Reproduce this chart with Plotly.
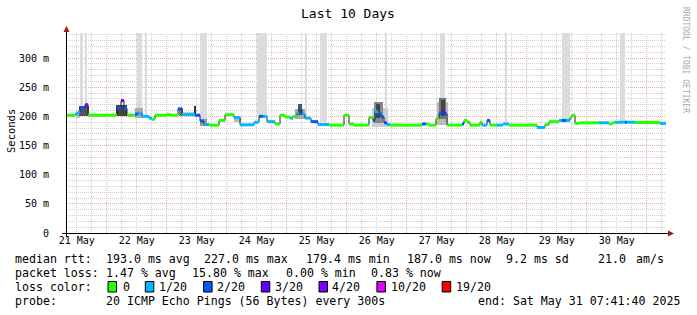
import plotly.graph_objects as go
import pandas as pd

W, H = 697, 315
START = pd.Timestamp("2025-05-21 07:41:40")
TOTAL_H = 240.0

# ---- median rtt (step breakpoints, hours since start) ----
med_hours = [0.0, 3.6, 4.8, 5.6, 7.6, 8.8, 20.4, 22.0, 23.2, 24.4, 27.6, 28.8, 30.4, 33.2,
             34.4, 35.6, 40.4, 41.6, 44.8, 46.4, 51.6, 53.6, 55.2, 57.2, 61.2, 63.6, 67.2,
             69.6, 75.2, 77.2, 78.8, 80.4, 83.6, 85.6, 87.6, 89.6, 90.8, 92.4, 93.2, 94.4,
             95.6, 98.0, 100.8, 105.2, 111.2, 113.2, 115.2, 121.2, 122.8, 123.6, 124.8,
             126.0, 127.2, 128.4, 129.6, 142.4, 144.0, 145.2, 148.0, 149.2, 150.4, 151.6,
             152.4, 158.4, 159.2, 160.4, 161.6, 165.6, 166.4, 168.4, 169.6, 172.4, 174.8,
             177.2, 188.4, 191.6, 193.2, 197.2, 198.4, 200.0, 201.6, 202.4, 203.6, 205.2,
             213.2, 217.2, 218.4, 219.6, 223.6, 224.4, 227.6, 237.6]
med_ms = [202, 204, 207, 214, 220, 202, 214, 227, 214, 202, 204, 205, 200, 197,
          195, 202, 203, 202, 213, 203, 202, 192, 186, 185, 193, 203, 198,
          185.5, 190, 200, 200, 191, 187, 202, 199, 197, 200, 206, 213, 204,
          197, 191, 186, 185, 202, 187, 185, 198, 193, 208, 205,
          199, 189, 186, 185, 187, 187, 185, 196, 205, 209, 204,
          185, 187, 193, 190, 185, 190, 185, 193, 185, 185, 187,
          185, 181, 186, 191, 193, 193, 193, 198, 202, 188, 189,
          189, 187, 189, 190, 190, 190, 189.5, 188]
med_loss = [0, 1, 1, 2, 4, 0, 2, 3, 2, 0, 2, 1, 1, 1,
            0, 0, 0, 0, 2, 1, 2, 2, 1, 0, 0, 0, 1,
            1, 1, 2, 1, 1, 0, 0, 0, 1, 0, 1, 2, 1,
            1, 2, 1, 0, 0, 0, 0, 0, 2, 1, 2,
            2, 2, 1, 0, 2, 0, 0, 0, 2, 4, 2,
            0, 2, 0, 0, 0, 0, 1, 2, 0, 1, 1,
            0, 1, 0, 0, 1, 2, 1, 0, 0, 0, 0,
            1, 0, 0, 1, 2, 1, 0, 1]

# ---- smoke (spread of individual pings) ----
smoke_start = [4.0, 5.2, 20.0, 27.6, 45.2, 46.8, 51.2, 53.6, 67.2, 91.6, 92.8,
               122.4, 123.2, 124.0, 148.4, 149.2, 150.0]
smoke_end = [5.6, 9.2, 24.4, 30.8, 46.8, 51.6, 52.0, 56.4, 70.0, 95.6, 94.4,
             128.8, 126.8, 125.6, 152.8, 152.0, 151.6]
smoke_lo = [198, 200, 201, 197, 201, 200, 200, 183, 190, 195, 203,
            182, 188, 198, 185, 195, 200]
smoke_hi = [209, 218, 219, 214, 215, 207, 218, 196, 200, 212, 222,
            214, 224, 221, 224, 232, 228]
smoke_shade = ["#bbbbbb", "#555555", "#444444", "#aaaaaa", "#777777", "#cccccc", "#333333",
               "#999999", "#bbbbbb", "#aaaaaa", "#555555",
               "#cccccc", "#888888", "#444444", "#bbbbbb", "#777777", "#444444"]

# ---- light gray loss bars ----
gap_start = [5.6, 7.6, 28.4, 31.6, 53.6, 76.4, 95.6, 101.6, 127.6, 149.6, 175.6, 198.4, 221.6]
gap_end = [6.8, 8.4, 30.4, 32.4, 56.4, 80.4, 96.4, 104.4, 128.4, 151.6, 176.4, 201.6, 223.6]
gap_lo = [210, 218, 210, 200, 193, 200, 200, 190, 190, 225, 188, 195, 192]
Y_TOP = 343

day_labels = ["21 May", "22 May", "23 May", "24 May", "25 May",
              "26 May", "27 May", "28 May", "29 May", "30 May"]
y_tickvals = [0, 50, 100, 150, 200, 250, 300]
y_ticktext = ["0", "50 m", "100 m", "150 m", "200 m", "250 m", "300 m"]

loss_labels = ["0", "1/20", "2/20", "3/20", "4/20", "10/20", "19/20"]
loss_colors = ["#26ff00", "#00b8ff", "#0059ff", "#5e00ff", "#7e00ff", "#dd00ff", "#ff0000"]

legend_rows = [
    ["median rtt:", "193.0 ms avg", "227.0 ms max", "179.4 ms min", "187.0 ms now",
     "9.2 ms sd", "21.0", "am/s"],
    ["packet loss:", "1.47 % avg", "15.80 % max", "0.00 % min", "0.83 % now"],
    ["probe:", "20 ICMP Echo Pings (56 Bytes) every 300s", "end: Sat May 31 07:41:40 2025"],
]
legend_x = [
    [15, 106, 204, 306, 407, 506, 598, 636],
    [15, 106, 192, 286, 371],
    [15, 106, 478],
]
legend_y = [259, 273, 301]
loss_box_x = [108, 145.3, 203.6, 261.3, 319, 376.9, 442.2]
loss_lab_x = [123, 159, 217, 275, 332, 391, 456]
LOSS_ROW_Y = 287

MONO = "DejaVu Sans Mono"


def hours_since_start(ts):
    return (pd.Timestamp(ts) - START) / pd.Timedelta(hours=1)


# grid / tick positions derived from the calendar
midnights = [hours_since_start(f"2025-05-{d} 00:00") for d in range(22, 32)]
six_hours = [h for h in (hours_since_start("2025-05-21 06:00") + 6 * k for k in range(41))
             if 0 <= h <= TOTAL_H and all(abs(h - m) > 0.01 for m in midnights)]
noon_text = {round(hours_since_start(f"2025-05-{21 + i} 12:00"), 4): lab
             for i, lab in enumerate(day_labels)}
x_ticktext = [noon_text.get(round(h, 4), "") for h in six_hours]


def px(x):
    return x / W


def py(y):
    return 1 - y / H


fig = go.Figure()

# gray loss bars
fig.add_trace(go.Bar(
    x=[(s + e) / 2 for s, e in zip(gap_start, gap_end)],
    y=[Y_TOP - lo for lo in gap_lo],
    base=gap_lo,
    width=[e - s for s, e in zip(gap_start, gap_end)],
    marker=dict(color="#dcdcdc", line=dict(width=0)),
    hoverinfo="skip",
))

# smoke
fig.add_trace(go.Bar(
    x=[(s + e) / 2 for s, e in zip(smoke_start, smoke_end)],
    y=[hi - lo for lo, hi in zip(smoke_lo, smoke_hi)],
    base=smoke_lo,
    width=[e - s for s, e in zip(smoke_start, smoke_end)],
    marker=dict(color=smoke_shade, line=dict(width=0)),
    hoverinfo="skip",
))

# median dark step line
fig.add_trace(go.Scatter(
    x=med_hours + [TOTAL_H],
    y=med_ms + [med_ms[-1]],
    mode="lines", line=dict(color="#202020", width=1, shape="hv"),
    hoverinfo="skip",
))

# colored median segments by loss
seg_end = med_hours[1:] + [TOTAL_H]
for ci, col in enumerate(loss_colors):
    xs, ys = [], []
    for h0, h1, v, li in zip(med_hours, seg_end, med_ms, med_loss):
        if li == ci:
            xs += [h0, h1, None]
            ys += [v, v, None]
    if xs:
        fig.add_trace(go.Scatter(x=xs, y=ys, mode="lines",
                                 line=dict(color=col, width=3), hoverinfo="skip"))

GRID_MIN = "#d0d0d0"
GRID_MAJ = "#e9a8a8"
DASH = "1px,1px"

fig.update_layout(
    width=W, height=H, margin=dict(l=0, r=0, t=0, b=0, autoexpand=False),
    paper_bgcolor="white", plot_bgcolor="white",
    showlegend=False, barmode="overlay", bargap=0,
    xaxis=dict(
        range=[0, TOTAL_H], domain=[px(66), px(666)],
        tickmode="array", tickvals=six_hours, ticktext=x_ticktext,
        showgrid=True, gridcolor=GRID_MIN, griddash=DASH, gridwidth=1,
        ticks="", showline=False, zeroline=False, automargin=False,
        tickfont=dict(family=MONO, size=10, color="#000000"),
    ),
    yaxis=dict(
        range=[0, Y_TOP], domain=[py(233), py(33)],
        tickmode="array", tickvals=y_tickvals, ticktext=y_ticktext,
        showgrid=True, gridcolor=GRID_MAJ, griddash=DASH, gridwidth=1,
        minor=dict(tick0=0, dtick=10, showgrid=True, gridcolor=GRID_MIN,
                   griddash=DASH, gridwidth=1),
        ticks="", showline=False, zeroline=False, automargin=False,
        ticklabelstandoff=16,
        tickfont=dict(family=MONO, size=10, color="#000000"),
    ),
)

shapes = []
# day (midnight) major grid lines on the x scale
for m in midnights:
    if 0 < m < TOTAL_H:
        shapes.append(dict(type="line", xref="x", yref="y", x0=m, x1=m, y0=0, y1=Y_TOP,
                           layer="below", line=dict(color=GRID_MAJ, width=1, dash=DASH)))
# axes
shapes.append(dict(type="line", xref="paper", yref="paper", x0=px(62), x1=px(668),
                   y0=py(233.5), y1=py(233.5), line=dict(color="#000000", width=1)))
shapes.append(dict(type="line", xref="paper", yref="paper", x0=px(66.5), x1=px(66.5),
                   y0=py(237), y1=py(31), line=dict(color="#000000", width=1)))
ARROW = "#a01818"
shapes.append(dict(type="path", xref="paper", yref="paper",
                   path=f"M {px(668)} {py(230.5)} L {px(674)} {py(233.5)} L {px(668)} {py(236.5)} Z",
                   fillcolor=ARROW, line=dict(color=ARROW, width=0)))
shapes.append(dict(type="path", xref="paper", yref="paper",
                   path=f"M {px(63.5)} {py(32)} L {px(66.5)} {py(26)} L {px(69.5)} {py(32)} Z",
                   fillcolor=ARROW, line=dict(color=ARROW, width=0)))
# loss colour boxes
for bx, col in zip(loss_box_x, loss_colors):
    shapes.append(dict(type="rect", xref="paper", yref="paper",
                       x0=px(bx), x1=px(bx + 8.5), y0=py(292), y1=py(281.5),
                       fillcolor=col, line=dict(color="#000000", width=1)))
fig.update_layout(shapes=shapes)

ann = []


def text(x, y, s, size=11.6, xanchor="left", color="#000000", angle=0):
    ann.append(dict(x=px(x), y=py(y), xref="paper", yref="paper", text=s, showarrow=False,
                    xanchor=xanchor, yanchor="middle", textangle=angle, align="left",
                    borderpad=0, borderwidth=0,
                    font=dict(family=MONO, size=size, color=color)))


text(348, 14, "Last 10 Days", size=13, xanchor="center")
text(11, 131, "Seconds", size=10.5, xanchor="center", angle=-90)
text(686, 60, "RRDTOOL / TOBI OETIKER", size=8, xanchor="center", color="#aaaaaa", angle=90)
for row, xs, y in zip(legend_rows, legend_x, legend_y):
    for s, x in zip(row, xs):
        text(x, y, s)
text(15, LOSS_ROW_Y, "loss color:")
for s, x in zip(loss_labels, loss_lab_x):
    text(x, LOSS_ROW_Y, s)
fig.update_layout(annotations=ann)

fig.write_html("out.html")
